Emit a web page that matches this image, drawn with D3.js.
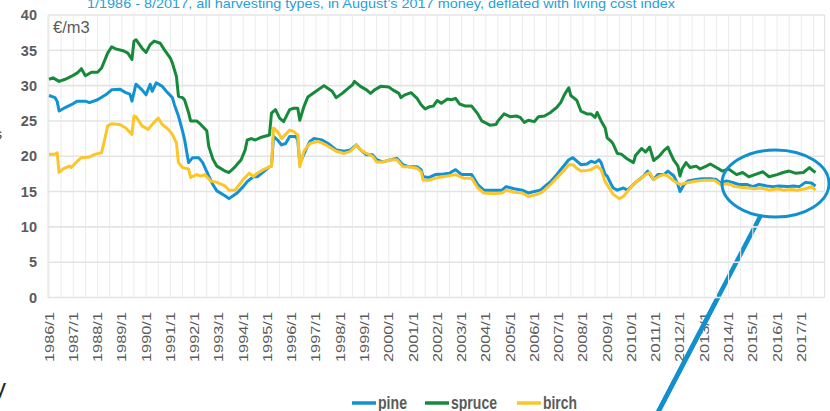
<!DOCTYPE html>
<html><head><meta charset="utf-8">
<script src="https://cdn.jsdelivr.net/npm/d3@7"></script>
<style>
html,body{margin:0;padding:0;background:#fff;}
svg{display:block;}
text{font-family:"Liberation Sans",Arial,sans-serif;}
</style></head>
<body>
<script>
// ---- data (month "YYYY/M", €/m3) ----
const pine = [
["1986/1",28.6],["1986/4",28.3],["1986/5",27.8],["1986/6",26.4],["1986/9",26.9],["1986/12",27.3],
["1987/3",27.8],["1987/7",27.8],["1987/9",27.6],["1988/1",28.0],["1988/5",28.7],["1988/8",29.4],
["1988/12",29.5],["1989/3",29.0],["1989/5",28.8],["1989/6",27.8],["1989/8",30.2],["1989/11",29.4],
["1990/1",28.7],["1990/3",30.2],["1990/4",29.2],["1990/6",30.4],["1990/9",29.9],["1990/11",29.2],
["1991/2",28.3],["1991/3",27.3],["1991/5",25.7],["1991/7",23.6],["1991/8",22.4],["1991/10",19.1],
["1991/12",19.8],["1992/3",19.8],["1992/5",19.1],["1992/8",17.2],["1992/10",16.0],["1992/12",15.1],
["1993/4",14.4],["1993/6",14.0],["1993/10",14.8],["1994/1",15.7],["1994/3",16.4],["1994/6",17.1],
["1994/8",17.1],["1994/11",17.8],["1995/2",18.5],["1995/3",18.6],["1995/4",22.8],["1995/6",22.3],
["1995/8",21.6],["1995/10",21.8],["1995/12",22.8],["1996/3",22.8],["1996/4",22.3],["1996/5",19.0],
["1996/8",20.9],["1996/10",22.1],["1996/12",22.5],["1997/4",22.3],["1997/7",21.8],["1997/11",20.9],
["1998/3",20.7],["1998/6",20.9],["1998/9",21.6],["1998/11",20.9],["1999/2",20.2],["1999/5",20.2],
["1999/7",19.5],["1999/10",19.2],["2000/2",19.5],["2000/5",19.7],["2000/8",18.8],["2000/11",18.5],
["2001/3",18.5],["2001/5",18.1],["2001/6",17.1],["2001/9",17.0],["2001/12",17.4],["2002/4",17.5],
["2002/7",17.6],["2002/10",18.1],["2003/1",17.4],["2003/6",17.4],["2003/9",16.0],["2003/12",15.2],
["2004/5",15.2],["2004/9",15.2],["2004/11",15.7],["2005/3",15.4],["2005/7",15.2],["2005/10",14.8],
["2006/1",15.0],["2006/4",15.2],["2006/6",15.7],["2006/9",16.4],["2006/12",17.4],["2007/4",18.8],
["2007/6",19.5],["2007/8",19.8],["2007/10",19.3],["2007/12",18.8],["2008/3",18.9],["2008/5",19.3],
["2008/7",19.1],["2008/9",19.5],["2008/10",19.1],["2008/12",17.4],["2009/1",17.2],["2009/3",16.0],
["2009/4",15.5],["2009/6",15.2],["2009/9",15.5],["2009/11",15.2],["2010/2",16.0],["2010/4",16.5],
["2010/7",17.2],["2010/9",17.9],["2010/12",16.7],["2011/2",17.4],["2011/5",17.4],["2011/7",17.9],
["2011/10",17.2],["2011/12",16.0],["2012/1",15.0],["2012/3",16.0],["2012/5",16.5],["2012/9",16.7],
["2012/12",16.8],["2013/4",16.8],["2013/7",16.7],["2013/9",16.2],["2013/12",16.5],["2014/3",16.3],
["2014/6",16.0],["2014/10",16.0],["2015/1",15.7],["2015/4",16.0],["2015/8",15.8],["2015/11",15.7],
["2016/2",15.8],["2016/6",15.7],["2016/9",15.8],["2016/12",15.7],["2017/3",16.3],["2017/6",16.2],
["2017/8",15.8]
];
const spruce = [
["1986/1",30.9],["1986/3",31.1],["1986/6",30.6],["1986/9",30.9],["1986/12",31.3],["1987/3",31.8],
["1987/5",32.4],["1987/7",31.4],["1987/10",31.9],["1988/1",31.9],["1988/3",32.5],["1988/6",34.6],
["1988/8",35.5],["1988/10",35.2],["1989/2",34.9],["1989/4",34.6],["1989/6",33.7],["1989/7",36.3],
["1989/8",36.5],["1989/11",35.3],["1990/1",34.7],["1990/3",35.8],["1990/5",36.3],["1990/8",36.0],
["1990/10",35.1],["1991/1",33.9],["1991/2",33.2],["1991/4",31.3],["1991/5",28.5],["1991/7",28.3],
["1991/8",28.0],["1991/10",26.2],["1991/11",25.0],["1992/2",25.0],["1992/4",24.5],["1992/7",23.6],
["1992/8",21.4],["1992/10",19.6],["1992/12",18.6],["1993/4",17.9],["1993/6",17.7],["1993/9",18.5],
["1993/12",19.5],["1994/2",20.9],["1994/3",22.3],["1994/5",22.5],["1994/7",22.3],["1994/10",22.7],
["1995/2",23.0],["1995/3",26.1],["1995/5",26.6],["1995/7",25.4],["1995/9",24.9],["1995/12",26.6],
["1996/2",26.8],["1996/4",26.8],["1996/5",25.1],["1996/7",27.0],["1996/9",28.4],["1997/1",29.2],
["1997/5",30.0],["1997/7",29.6],["1997/9",29.2],["1997/11",28.3],["1998/2",28.9],["1998/4",29.4],
["1998/7",30.1],["1998/8",30.6],["1998/11",29.9],["1999/2",29.4],["1999/4",28.9],["1999/6",29.4],
["1999/9",29.9],["2000/1",29.8],["2000/3",29.4],["2000/6",28.9],["2000/7",28.3],["2000/9",28.7],
["2000/12",29.0],["2001/3",28.2],["2001/5",27.3],["2001/7",26.7],["2001/9",27.0],["2001/11",27.1],
["2002/1",27.9],["2002/3",27.5],["2002/6",28.1],["2002/8",28.0],["2002/10",28.2],["2002/12",27.4],
["2003/3",27.1],["2003/6",27.1],["2003/9",26.0],["2003/11",25.0],["2004/3",24.4],["2004/6",24.5],
["2004/7",25.0],["2004/10",26.0],["2005/1",25.6],["2005/4",25.7],["2005/6",25.5],["2005/8",24.8],
["2005/10",25.1],["2006/1",24.9],["2006/3",25.6],["2006/6",25.7],["2006/9",26.2],["2006/12",26.9],
["2007/2",27.6],["2007/4",28.8],["2007/6",29.7],["2007/7",28.6],["2007/10",27.9],["2007/12",26.4],
["2008/3",26.0],["2008/5",26.0],["2008/7",25.5],["2008/8",26.2],["2008/10",25.0],["2008/12",24.0],
["2009/1",22.6],["2009/3",22.1],["2009/4",21.7],["2009/6",20.4],["2009/8",20.3],["2009/11",19.6],
["2010/2",19.1],["2010/3",20.1],["2010/6",21.1],["2010/8",20.6],["2010/10",21.3],["2010/12",19.4],
["2011/3",20.1],["2011/5",20.8],["2011/7",21.3],["2011/8",20.6],["2011/10",19.4],["2011/12",18.6],
["2012/1",17.2],["2012/2",18.2],["2012/4",19.1],["2012/6",18.4],["2012/9",18.6],["2012/11",18.2],
["2013/2",18.6],["2013/4",18.9],["2013/7",18.4],["2013/10",17.9],["2014/1",18.2],["2014/5",17.4],
["2014/8",17.7],["2014/11",17.1],["2015/2",17.4],["2015/6",17.8],["2015/9",17.1],["2016/1",17.4],
["2016/4",17.7],["2016/7",17.9],["2016/10",17.6],["2017/2",17.7],["2017/5",18.4],["2017/7",17.9],
["2017/8",17.7]
];
const birch = [
["1986/1",20.3],["1986/4",20.3],["1986/5",20.5],["1986/6",17.7],["1986/8",18.2],["1986/11",18.6],
["1986/12",18.4],["1987/3",19.3],["1987/5",19.8],["1987/9",19.9],["1987/12",20.3],["1988/3",20.5],
["1988/4",21.7],["1988/6",24.3],["1988/8",24.6],["1988/12",24.5],["1989/3",24.0],["1989/6",23.1],
["1989/7",25.7],["1989/8",25.6],["1989/11",24.3],["1990/2",23.8],["1990/4",24.5],["1990/7",25.4],
["1990/9",24.5],["1990/12",23.8],["1991/2",23.1],["1991/4",21.9],["1991/5",19.1],["1991/7",18.4],
["1991/10",18.2],["1991/11",17.0],["1992/2",17.4],["1992/4",17.2],["1992/6",17.4],["1992/9",16.5],
["1992/12",16.3],["1993/4",15.8],["1993/6",15.2],["1993/9",15.2],["1994/1",16.7],["1994/4",17.6],
["1994/6",17.1],["1994/8",17.6],["1994/11",18.1],["1995/2",18.5],["1995/3",18.6],["1995/4",24.0],
["1995/6",23.5],["1995/8",22.5],["1995/12",23.7],["1996/2",23.5],["1996/4",23.0],["1996/5",18.5],
["1996/7",20.7],["1996/10",21.8],["1997/2",22.1],["1997/6",21.6],["1997/11",20.7],["1998/3",20.4],
["1998/6",20.7],["1998/9",21.6],["1998/11",20.9],["1999/2",20.4],["1999/5",20.0],["1999/7",19.2],
["1999/10",19.2],["2000/2",19.5],["2000/5",19.5],["2000/8",18.5],["2000/11",18.5],["2001/3",18.3],
["2001/5",17.8],["2001/6",16.6],["2001/9",16.6],["2001/12",16.9],["2002/4",17.1],["2002/10",17.4],
["2003/2",16.9],["2003/6",16.9],["2003/9",15.5],["2003/12",14.8],["2004/5",14.7],["2004/9",14.8],
["2004/11",15.2],["2005/3",14.9],["2005/7",14.8],["2005/10",14.3],["2006/1",14.5],["2006/4",14.8],
["2006/6",15.2],["2006/9",16.0],["2006/12",16.9],["2007/4",18.1],["2007/6",18.8],["2007/8",18.8],
["2007/10",18.3],["2007/12",17.9],["2008/3",18.0],["2008/5",18.1],["2008/8",18.6],["2008/10",18.1],
["2008/12",16.4],["2009/2",15.5],["2009/4",14.6],["2009/7",14.0],["2009/9",14.3],["2009/11",15.0],
["2010/1",15.7],["2010/4",16.5],["2010/8",17.4],["2010/10",17.7],["2010/12",16.7],["2011/3",17.2],
["2011/5",17.4],["2011/7",17.2],["2011/10",16.5],["2012/1",16.0],["2012/4",16.2],["2012/9",16.5],
["2013/1",16.6],["2013/6",16.6],["2013/9",16.0],["2014/1",16.1],["2014/4",15.7],["2014/7",15.6],
["2014/11",15.5],["2015/2",15.4],["2015/5",15.5],["2015/9",15.2],["2016/1",15.4],["2016/4",15.2],
["2016/8",15.3],["2016/11",15.2],["2017/3",15.4],["2017/6",15.7],["2017/8",15.2]
];
const seriesNames = ["pine","spruce","birch"];
const seriesColors = ["#1192d3","#17893a","#fcc62a"];
const yTicks = [0,5,10,15,20,25,30,35,40];
const xTickLabels = ["1986/1","1987/1","1988/1","1989/1","1990/1","1991/1","1992/1","1993/1","1994/1",
"1995/1","1996/1","1997/1","1998/1","1999/1","2000/1","2001/1","2002/1","2003/1","2004/1","2005/1",
"2006/1","2007/1","2008/1","2009/1","2010/1","2011/1","2012/1","2013/1","2014/1","2015/1","2016/1","2017/1"];
const titleText = "1/1986 - 8/2017, all harvesting types, in August\u2019s 2017 money, deflated with living cost index";
const unitText = "\u20AC/m3";

// ---- drawing ----
const W = 830, H = 411;
const svg = d3.select("body").append("svg").attr("width", W).attr("height", H);
const mIdx = s => { const [y, m] = s.split("/").map(Number); return (y - 1986) * 12 + (m - 1); };
const x = d3.scaleLinear().domain([-0.5, 383.5]).range([48, 824.6]);
const y = d3.scaleLinear().domain([0, 40]).range([297.5, 15]);
const blue = "#1190d0";

// arrow (below gridlines)
const arrowPts = [[761, 215], [655, 418]];
svg.append("line").attr("x1", arrowPts[0][0]).attr("y1", arrowPts[0][1]).attr("x2", arrowPts[1][0]).attr("y2", arrowPts[1][1])
  .attr("stroke", blue).attr("stroke-width", 4.5);

// vertical gridlines every 6 months
const vMonths = d3.range(0, 384, 6);
svg.append("g").selectAll("line").data(vMonths).join("line")
  .attr("x1", d => x(d)).attr("x2", d => x(d)).attr("y1", y(40)).attr("y2", y(0))
  .attr("stroke", "#ececec").attr("stroke-width", 1);
svg.append("line").attr("x1", x(383.5)).attr("x2", x(383.5)).attr("y1", y(40)).attr("y2", y(0))
  .attr("stroke", "#e4e4e4").attr("stroke-width", 1.2);
// horizontal gridlines
svg.append("g").selectAll("line").data(yTicks).join("line")
  .attr("x1", x(-0.5)).attr("x2", x(383.5)).attr("y1", d => y(d)).attr("y2", d => y(d))
  .attr("stroke", "#e4e4e4").attr("stroke-width", 1.6);
svg.append("line").attr("x1", x(-0.5)).attr("x2", x(-0.5)).attr("y1", y(40)).attr("y2", y(0))
  .attr("stroke", "#e4e4e4").attr("stroke-width", 1.2);

// y labels
svg.append("g").selectAll("text").data(yTicks).join("text")
  .attr("x", 37).attr("y", d => y(d)).attr("dy", "0.36em").attr("text-anchor", "end")
  .attr("font-size", 14.5).attr("font-weight", "bold").attr("fill", "#5b5b5b").text(d => d);

// x labels (rotated)
svg.append("g").selectAll("text").data(xTickLabels).join("text")
  .attr("transform", d => `translate(${x(mIdx(d)) + 4.5},312) rotate(-90)`)
  .attr("text-anchor", "end").attr("font-size", 12.5).attr("fill", "#5b5b5b")
  .attr("textLength", 50).attr("lengthAdjust", "spacingAndGlyphs").text(d => d);

// lines
const line = d3.line().x(d => x(mIdx(d[0]))).y(d => y(d[1]));
[pine, spruce, birch].forEach((s, i) => {
  svg.append("path").datum(s).attr("d", line).attr("fill", "none")
    .attr("stroke", seriesColors[i]).attr("stroke-width", 3).attr("stroke-linejoin", "round");
});

// unit label
svg.append("text").attr("x", 53).attr("y", 33).attr("font-size", 16.5).attr("fill", "#5b5b5b").text(unitText);

// title (cut at top)
svg.append("text").attr("x", 87).attr("y", 7.5).attr("font-size", 13.5).attr("fill", "#2a9ed8")
  .attr("textLength", 588).attr("lengthAdjust", "spacingAndGlyphs").text(titleText);

// ellipse annotation
svg.append("ellipse").attr("cx", 775.5).attr("cy", 183.5).attr("rx", 53.5).attr("ry", 33.5)
  .attr("fill", "none").attr("stroke", blue).attr("stroke-width", 3);

// arrow part over labels
svg.append("clipPath").attr("id", "below").append("rect").attr("x", 0).attr("y", 299).attr("width", W).attr("height", H);
svg.append("line").attr("clip-path", "url(#below)")
  .attr("x1", arrowPts[0][0]).attr("y1", arrowPts[0][1]).attr("x2", arrowPts[1][0]).attr("y2", arrowPts[1][1])
  .attr("stroke", blue).attr("stroke-width", 4.5);

// legend
const legX = [352, 425, 517];
const legW = [29, 46, 34];
const lg = svg.append("g");
seriesNames.forEach((n, i) => {
  lg.append("line").attr("x1", legX[i]).attr("x2", legX[i] + 24).attr("y1", 403).attr("y2", 403)
    .attr("stroke", seriesColors[i]).attr("stroke-width", 3.5);
  lg.append("text").attr("x", legX[i] + 26).attr("y", 409).attr("font-size", 18).attr("font-weight", "bold")
    .attr("fill", "#5b5b5b").attr("textLength", legW[i]).attr("lengthAdjust", "spacingAndGlyphs").text(n);
});

// cut-off slide text at left edge
svg.append("text").attr("x", -6).attr("y", 396).attr("font-size", 24).attr("fill", "#222").text("y");
svg.append("text").attr("x", -5).attr("y", 139).attr("font-size", 14).attr("fill", "#444").text("s");
</script>
</body></html>
